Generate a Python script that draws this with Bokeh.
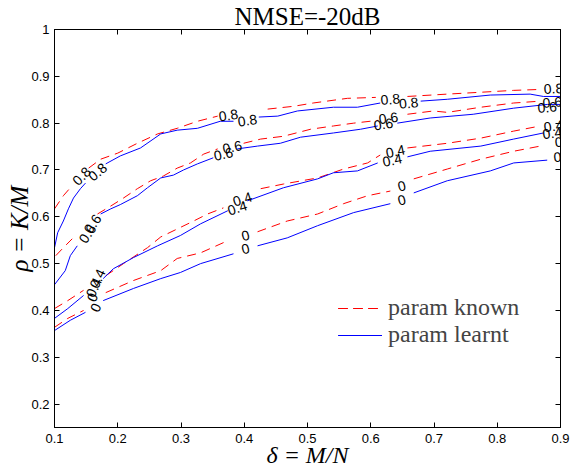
import math
from bokeh.plotting import figure
from bokeh.models import Range1d, LinearAxis, Legend, FixedTicker
from bokeh.core.properties import value
from bokeh.embed import file_html
from bokeh.resources import INLINE

nan = float("nan")

title_text = "NMSE=-20dB"
x_label = "δ = M/N"
y_label = "ρ = K/M"

x_ticks = [0.1, 0.2, 0.3, 0.4, 0.5, 0.6, 0.7, 0.8, 0.9]
x_tick_labels = ["0.1", "0.2", "0.3", "0.4", "0.5", "0.6", "0.7", "0.8", "0.9"]
y_ticks = [0.2, 0.3, 0.4, 0.5, 0.6, 0.7, 0.8, 0.9, 1.0]
y_tick_labels = ["0.2", "0.3", "0.4", "0.5", "0.6", "0.7", "0.8", "0.9", "1"]

# contour level 0.8
known_08_x = [0.100, 0.114, 0.125, nan, 0.154, 0.173, 0.200, 0.231, 0.263, 0.294, 0.326, 0.358, nan,
              0.437, 0.478, 0.509, 0.563, 0.608, nan, 0.658, 0.721, 0.774, 0.826, 0.868]
known_08_y = [0.617, 0.645, 0.662, nan, 0.704, 0.723, 0.736, 0.757, 0.777, 0.789, 0.804, 0.815, nan,
              0.830, 0.836, 0.843, 0.853, 0.855, nan, 0.857, 0.862, 0.866, 0.870, 0.872]
learnt_08_x = [0.100, 0.105, 0.114, 0.122, 0.130, 0.141, 0.149, nan, 0.181, 0.204, 0.236, 0.268, 0.294,
               0.326, 0.362, 0.383, nan, 0.423, 0.453, 0.484, 0.541, 0.579, 0.615, nan,
               0.679, 0.721, 0.789, 0.852, 0.873, 0.900]
learnt_08_y = [0.534, 0.566, 0.591, 0.617, 0.640, 0.660, 0.672, nan, 0.713, 0.730, 0.747, 0.777, 0.785,
               0.789, 0.804, 0.804, nan, 0.813, 0.815, 0.826, 0.834, 0.834, 0.843, nan,
               0.847, 0.851, 0.860, 0.862, 0.857, 0.857]

# contour level 0.6
known_06_x = [0.102, 0.114, 0.128, nan, 0.168, 0.189, 0.209, 0.231, 0.252, 0.272, 0.294, 0.315, 0.336,
              0.358, nan, 0.399, 0.426, 0.462, 0.505, 0.541, 0.573, 0.612, nan,
              0.658, 0.699, 0.721, 0.774, 0.826, 0.868]
known_06_y = [0.517, 0.534, 0.553, nan, 0.606, 0.623, 0.640, 0.660, 0.677, 0.687, 0.704, 0.715, 0.734,
              0.745, nan, 0.757, 0.766, 0.772, 0.787, 0.794, 0.800, 0.806, nan,
              0.819, 0.826, 0.823, 0.834, 0.843, 0.847]
learnt_06_x = [0.100, 0.117, 0.125, 0.136, nan, 0.173, 0.189, 0.204, 0.231, 0.247, 0.268, 0.288, 0.304,
               0.326, 0.351, nan, 0.389, 0.421, 0.457, 0.489, 0.541, 0.584, 0.611, nan,
               0.642, 0.694, 0.762, 0.826, 0.879, 0.900]
learnt_06_y = [0.455, 0.485, 0.517, 0.538, nan, 0.606, 0.617, 0.626, 0.645, 0.662, 0.683, 0.689, 0.700,
               0.713, 0.726, nan, 0.745, 0.751, 0.757, 0.770, 0.779, 0.787, 0.794, nan,
               0.800, 0.811, 0.819, 0.832, 0.840, 0.840]

# contour level 0.4
known_04_x = [0.100, 0.121, 0.146, nan, 0.181, 0.209, 0.247, 0.268, 0.294, 0.320, 0.342, 0.367, nan,
              0.426, 0.462, 0.516, 0.557, 0.595, 0.615, nan, 0.658, 0.721, 0.774, 0.826, 0.868]
known_04_y = [0.404, 0.421, 0.443, nan, 0.474, 0.500, 0.534, 0.557, 0.574, 0.591, 0.606, 0.619, nan,
              0.660, 0.670, 0.683, 0.702, 0.715, 0.732, nan, 0.747, 0.757, 0.768, 0.783, 0.794]
learnt_04_x = [0.100, 0.121, 0.146, nan, 0.177, 0.193, 0.225, 0.263, 0.299, 0.331, 0.374, nan,
               0.405, 0.462, 0.516, 0.541, 0.579, 0.611, nan, 0.658, 0.694, 0.774, 0.826, 0.873]
learnt_04_y = [0.383, 0.404, 0.432, nan, 0.468, 0.489, 0.513, 0.538, 0.560, 0.585, 0.613, nan,
               0.634, 0.662, 0.681, 0.694, 0.698, 0.715, nan, 0.728, 0.740, 0.751, 0.766, 0.779]

# contour level 0
known_0_x = [0.100, 0.121, 0.146, nan, 0.181, 0.225, 0.268, 0.294, 0.331, 0.374, nan,
             0.421, 0.468, 0.516, 0.557, 0.595, 0.631, nan, 0.668, 0.721, 0.774, 0.826, 0.868]
known_0_y = [0.364, 0.383, 0.400, nan, 0.438, 0.464, 0.485, 0.511, 0.523, 0.549, nan,
             0.568, 0.591, 0.606, 0.628, 0.645, 0.655, nan, 0.681, 0.702, 0.723, 0.740, 0.751]
learnt_0_x = [0.100, 0.125, 0.149, nan, 0.177, 0.225, 0.268, 0.299, 0.331, 0.383, nan,
              0.421, 0.468, 0.516, 0.573, 0.631, nan, 0.668, 0.721, 0.789, 0.826, 0.879]
learnt_0_y = [0.357, 0.379, 0.396, nan, 0.421, 0.447, 0.468, 0.481, 0.500, 0.521, nan,
              0.538, 0.555, 0.581, 0.609, 0.628, nan, 0.651, 0.677, 0.698, 0.715, 0.721]

# contour labels
label_text = ["0.8", "0.8", "0.8", "0.8", "0.8", "0.8", "0.8",
              "0.6", "0.6", "0.6", "0.6", "0.6", "0.6", "0.6", "0.6",
              "0.4", "0.4", "0.4", "0.4", "0.4", "0.4", "0.4", "0.4",
              "0", "0", "0", "0", "0", "0", "0", "0"]
label_x = [0.143, 0.168, 0.375, 0.405, 0.631, 0.660, 0.889,
           0.152, 0.160, 0.381, 0.367, 0.628, 0.620, 0.887, 0.879,
           0.168, 0.162, 0.397, 0.389, 0.639, 0.634, 0.889, 0.887,
           0.160, 0.165, 0.402, 0.402, 0.649, 0.649, 0.897, 0.895]
label_y = [0.687, 0.696, 0.817, 0.806, 0.851, 0.843, 0.874,
           0.564, 0.585, 0.749, 0.734, 0.811, 0.798, 0.845, 0.834,
           0.468, 0.449, 0.638, 0.619, 0.740, 0.721, 0.794, 0.779,
           0.428, 0.406, 0.560, 0.532, 0.666, 0.636, 0.760, 0.728]
label_angle = [45, 40, 8, 8, 5, 5, 3,
               55, 55, 12, 12, 8, 8, 5, 5,
               65, 65, 18, 18, 12, 12, 8, 8,
               65, 65, 15, 15, 15, 15, 5, 5]

known_lines = [(known_08_x, known_08_y), (known_06_x, known_06_y),
               (known_04_x, known_04_y), (known_0_x, known_0_y)]
learnt_lines = [(learnt_08_x, learnt_08_y), (learnt_06_x, learnt_06_y),
                (learnt_04_x, learnt_04_y), (learnt_0_x, learnt_0_y)]

p = figure(width=572, height=474, output_backend="svg", toolbar_location=None,
           x_range=Range1d(0.1, 0.9), y_range=Range1d(0.15, 1.0),
           min_border_left=54, min_border_right=12, min_border_top=28, min_border_bottom=47,
           title=title_text)
p.background_fill_color = "white"
p.border_fill_color = "white"
p.outline_line_color = "black"
p.outline_line_width = 1
p.grid.visible = False

p.title.align = "center"
p.title.text_font = "Liberation Serif"
p.title.text_font_size = "25px"
p.title.text_font_style = "normal"
p.title.text_color = "black"
p.title.standoff = 0
p.title.offset = -3

for ax in p.xaxis + p.yaxis:
    ax.major_tick_in = 5
    ax.major_tick_out = 0
    ax.minor_tick_line_color = None
    ax.axis_line_color = "black"
    ax.major_tick_line_color = "black"
    ax.major_label_text_font = "Liberation Sans"
    ax.major_label_text_font_size = "13px"
    ax.major_label_text_color = "black"
    ax.axis_label_text_font = "Liberation Serif"
    ax.axis_label_text_font_style = "italic"
    ax.axis_label_text_color = "black"

p.xaxis.ticker = FixedTicker(ticks=x_ticks)
p.xaxis.major_label_overrides = {t: s for t, s in zip(x_ticks, x_tick_labels)}
p.xaxis.major_label_standoff = 6
p.xaxis.axis_label = x_label
p.xaxis.axis_label_text_font_size = "24px"
p.xaxis.axis_label_standoff = -4

p.yaxis.ticker = FixedTicker(ticks=y_ticks)
p.yaxis.major_label_overrides = {t: s for t, s in zip(y_ticks, y_tick_labels)}
p.yaxis.major_label_standoff = 5
p.yaxis.axis_label = y_label
p.yaxis.axis_label_text_font_size = "25px"
p.yaxis.axis_label_standoff = -5

right_ax = LinearAxis(ticker=FixedTicker(ticks=y_ticks), major_tick_in=5, major_tick_out=0,
                      minor_tick_line_color=None, major_label_text_color=None,
                      major_label_overrides={t: "" for t in y_ticks},
                      major_label_standoff=0)
top_ax = LinearAxis(ticker=FixedTicker(ticks=x_ticks), major_tick_in=5, major_tick_out=0,
                    minor_tick_line_color=None, major_label_text_color=None,
                    major_label_overrides={t: "" for t in x_ticks},
                    major_label_standoff=0)
p.add_layout(right_ax, "right")
p.add_layout(top_ax, "above")

known_renderers = []
for xs, ys in known_lines:
    r = p.line(xs, ys, line_color="#ff0000", line_width=1, line_dash="9 6")
    known_renderers.append(r)
learnt_renderers = []
for xs, ys in learnt_lines:
    r = p.line(xs, ys, line_color="#0000ff", line_width=1)
    learnt_renderers.append(r)

p.text(x=label_x, y=label_y, text=label_text, angle=label_angle, angle_units="deg",
       text_font=value("Liberation Sans"), text_font_size=value("14px"),
       text_align="center", text_baseline="middle", text_color="black")

legend = Legend(items=[("param known", known_renderers), ("param learnt", learnt_renderers)],
                location=(284, 79), padding=0, margin=0, spacing=-3,
                glyph_width=44, glyph_height=20, label_height=20, label_standoff=6,
                label_text_font="Liberation Serif", label_text_font_size="24px",
                border_line_color=None, background_fill_alpha=0)
p.add_layout(legend)

open("out.html", "w").write(file_html(p, INLINE))
